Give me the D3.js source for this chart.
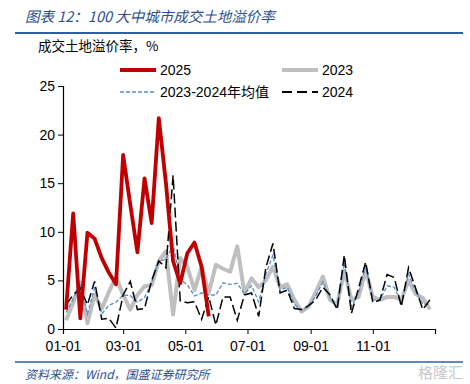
<!DOCTYPE html>
<html>
<head>
<meta charset="utf-8">
<script src="https://cdn.jsdelivr.net/npm/d3@7"></script>
<style>
  body { margin: 0; background: #fff; }
  svg { display: block; font-family: "Liberation Sans", Arial, sans-serif; }
</style>
</head>
<body>
<div id="chart"></div>
<script>
// weekly land premium rate, %
const v2025 = [2.0, 11.9, 1.1, 9.9, 9.3, 7.3, 5.8, 4.6, 17.9, 12.8, 7.9, 15.5, 10.9, 21.7, 15.0, 7.0, 4.7, 7.8, 8.9, 6.4, 1.3];
const v2023 = [0.9, 2.7, 4.8, 0.6, 3.5, 2.1, 3.8, 5.4, 3.5, 2.0, 3.5, 4.4, 4.5, 7.0, 8.0, 1.5, 7.3, 6.4, 4.0, 6.4,
  3.7, 6.6, 6.2, 5.9, 8.5, 3.7, 5.2, 4.3, 5.0, 6.4, 4.3, 4.6, 3.0, 1.8, 2.3, 3.8, 5.4, 3.0, 2.5, 6.0,
  3.0, 3.3, 6.0, 3.3, 3.0, 3.3, 3.3, 3.0, 5.0, 3.6, 3.2, 2.0];
const v2024 = [2.5, 3.5, 4.2, 2.5, 4.9, 1.0, 1.1, 0.1, 3.5, 4.9, 2.0, 2.1, 5.0, 7.0, 6.3, 15.8, 2.9, 2.7, 2.8, 1.0,
  3.3, 0.4, 3.3, 3.3, 0.9, 3.5, 3.7, 1.3, 6.3, 8.8, 3.7, 4.0, 2.1, 2.0, 2.4, 3.0, 4.3, 3.5, 2.0, 7.6,
  1.6, 4.2, 6.9, 2.7, 3.0, 5.6, 5.3, 2.3, 6.3, 4.2, 2.0, 3.0];
const vAvg = [1.7, 3.1, 4.5, 1.55, 4.2, 1.55, 2.45, 2.75, 3.5, 3.45, 2.75, 3.25, 4.75, 7.0, 7.15, 8.65, 5.1, 4.55, 3.4, 3.7,
  3.5, 3.5, 4.75, 4.6, 4.7, 3.6, 4.45, 2.8, 5.65, 7.6, 4.0, 4.3, 2.55, 1.9, 2.35, 3.4, 4.85, 3.25, 2.25, 6.8,
  2.3, 3.75, 6.45, 3.0, 3.0, 4.45, 4.3, 2.65, 5.65, 3.9, 2.6, 2.5];
const yTicks = [0, 5, 10, 15, 20, 25];
const xTickMonths = [0, 2, 4, 6, 8, 10, 12];

const W = 470, H = 384;
const m = { left: 63, right: 35, top: 86, bottom: 55 };

const svg = d3.select("#chart").append("svg").attr("width", W).attr("height", H);

// week dates (category axis)
const start = new Date(2025, 0, 4);
const week = i => d3.timeDay.offset(start, 7 * i);

const x = d3.scaleTime()
  .domain([new Date(2025, 0, 1), new Date(2026, 0, 1)])
  .range([m.left, W - m.right]);
const y = d3.scaleLinear().domain([0, 25]).range([H - m.bottom, m.top]);

// header
svg.append("text")
  .attr("x", 25).attr("y", 22)
  .attr("fill", "#2b4f8f")
  .style("font-family", "'Noto Sans CJK SC', sans-serif")
  .style("font-style", "italic")
  .style("font-size", "14.5px")
  .text("图表 12：100 大中城市成交土地溢价率");
svg.append("line").attr("x1", 15).attr("x2", 463).attr("y1", 33).attr("y2", 33)
  .attr("stroke", "#2e5fa3").attr("stroke-width", 2);
svg.append("text")
  .attr("x", 38).attr("y", 51)
  .style("font-family", "'Noto Sans CJK SC', sans-serif")
  .style("font-size", "13.5px")
  .text("成交土地溢价率，%");

// axes
const yAxis = d3.axisLeft(y).tickValues(yTicks).tickSize(5).tickPadding(3);
const gy = svg.append("g").attr("transform", `translate(${m.left},0)`).call(yAxis);
gy.selectAll("text").style("font-size", "14px").attr("fill", "#000");

const xTicks = xTickMonths.map(k => new Date(2025, k, 1));
const xAxis = d3.axisBottom(x).tickValues(xTicks).tickSize(5).tickPadding(7)
  .tickFormat(d => d.getFullYear() === 2025 ? d3.timeFormat("%m-%d")(d) : "");
const gx = svg.append("g").attr("transform", `translate(0,${H - m.bottom})`).call(xAxis);
gx.selectAll("text").style("font-size", "14px").attr("fill", "#000");
svg.selectAll(".domain").attr("stroke", "#000").attr("stroke-width", 1.2);

// lines
const line = d3.line().x((d, i) => x(week(i))).y(d => y(d));

svg.append("path").datum(v2023).attr("d", line)
  .attr("fill", "none").attr("stroke", "#bfbfbf").attr("stroke-width", 4)
  .attr("stroke-linejoin", "round");
svg.append("path").datum(vAvg).attr("d", line)
  .attr("fill", "none").attr("stroke", "#5b8cc8").attr("stroke-width", 1.3)
  .attr("stroke-dasharray", "4,2");
svg.append("path").datum(v2024).attr("d", line)
  .attr("fill", "none").attr("stroke", "#000").attr("stroke-width", 1.5)
  .attr("stroke-dasharray", "10,4");
svg.append("path").datum(v2025).attr("d", line)
  .attr("fill", "none").attr("stroke", "#c00000").attr("stroke-width", 3.8)
  .attr("stroke-linejoin", "round");

// legend
const legend = [
  { name: "2025", x: 120, y: 70, color: "#c00000", w: 4, dash: null },
  { name: "2023", x: 282, y: 70, color: "#bfbfbf", w: 4, dash: null },
  { name: "2023-2024年均值", x: 120, y: 92, color: "#5b8cc8", w: 1.3, dash: "4,2" },
  { name: "2024", x: 282, y: 92, color: "#000", w: 1.8, dash: "10,5" }
];
const lg = svg.append("g").selectAll("g").data(legend).join("g")
  .attr("transform", d => `translate(${d.x},${d.y})`);
lg.append("line").attr("x1", 0).attr("x2", 36)
  .attr("stroke", d => d.color).attr("stroke-width", d => d.w)
  .attr("stroke-dasharray", d => d.dash);
lg.append("text").attr("x", 40).attr("y", 5)
  .style("font-size", "14px")
  .style("font-family", "'Liberation Sans', 'Noto Sans CJK SC', sans-serif")
  .text(d => d.name);

// footer
svg.append("line").attr("x1", 15).attr("x2", 463).attr("y1", 362).attr("y2", 362)
  .attr("stroke", "#2e5fa3").attr("stroke-width", 1.5);
svg.append("text")
  .attr("x", 25).attr("y", 379)
  .attr("fill", "#2b4f8f")
  .style("font-family", "'Noto Sans CJK SC', sans-serif")
  .style("font-style", "italic")
  .style("font-size", "12px")
  .text("资料来源：Wind，国盛证券研究所");
svg.append("text")
  .attr("x", 463).attr("y", 378).attr("text-anchor", "end")
  .attr("fill", "#c8c8c8")
  .style("font-family", "'Noto Sans CJK SC', sans-serif")
  .style("font-size", "15px")
  .text("格隆汇");
</script>
</body>
</html>
